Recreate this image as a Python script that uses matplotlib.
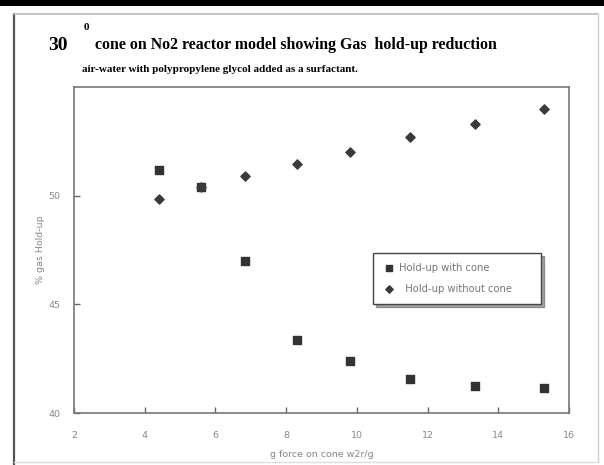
import matplotlib
matplotlib.use("Agg")
import matplotlib.pyplot as plt
from matplotlib.lines import Line2D
from matplotlib.patches import Rectangle

# Data
g_force = [4.4, 5.6, 6.85, 8.3, 9.8, 11.5, 13.35, 15.3]
holdup_with_cone = [51.2, 50.4, 47.0, 43.35, 42.4, 41.55, 41.25, 41.15]
holdup_without_cone = [49.85, 50.4, 50.9, 51.45, 52.0, 52.7, 53.3, 54.0]
x_ticks = [2, 4, 6, 8, 10, 12, 14, 16]
y_ticks = [40, 45, 50]

W, H = 604, 465
fig = plt.figure(figsize=(W / 100, H / 100), dpi=100)
fig.patch.set_facecolor("white")

def fx(px):
    return px / W

def fy(py):
    return 1 - py / H

# page decorations
fig.add_artist(Rectangle((0, fy(6)), 1, 6 / H, transform=fig.transFigure,
                         facecolor="black", edgecolor="none"))
fig.add_artist(Line2D([fx(14), fx(14)], [fy(14), fy(465)], transform=fig.transFigure,
                      color="#555555", lw=1.6))
fig.add_artist(Line2D([fx(14), fx(598)], [fy(14), fy(14)], transform=fig.transFigure,
                      color="#bbbbbb", lw=1.2))
fig.add_artist(Line2D([fx(598), fx(598)], [fy(14), fy(462)], transform=fig.transFigure,
                      color="#cccccc", lw=1.0))
fig.add_artist(Line2D([fx(14), fx(598)], [fy(462), fy(462)], transform=fig.transFigure,
                      color="#dddddd", lw=1.0))

ax = fig.add_axes([fx(74), fy(413), fx(569) - fx(74), fy(87) - fy(413)])
ax.set_xlim(2, 16)
ax.set_ylim(40, 55)
ax.set_xticks(x_ticks)
ax.set_yticks(y_ticks)
ax.set_xticklabels([str(t) for t in x_ticks])
ax.set_yticklabels([str(t) for t in y_ticks])
for s in ax.spines.values():
    s.set_color("#777777")
    s.set_linewidth(1.2)
ax.tick_params(direction="in", length=4, width=1, color="#666666",
               labelsize=6.8, labelcolor="#888888")
ax.tick_params(axis="x", pad=13)
ax.tick_params(axis="y", pad=10)

ax.scatter(g_force, holdup_with_cone, marker="s", s=38, color="#333333",
           edgecolors="#333333", label="Hold-up with cone", zorder=3)
ax.scatter(g_force, holdup_without_cone, marker="D", s=22, color="#3a3a3a",
           edgecolors="#3a3a3a", label="Hold-up without cone", zorder=3)

ax.set_xlabel("g force on cone w2r/g", fontsize=6.8, color="#888888", labelpad=7)
ax.set_ylabel("% gas Hold-up", fontsize=6.8, color="#888888", labelpad=2)

leg = ax.legend(loc="upper left", bbox_to_anchor=((373 - 74) / (569 - 74), (413 - 253) / (413 - 87)),
                borderaxespad=0, fontsize=7.2, frameon=True, fancybox=False, shadow=True,
                edgecolor="#444444", handletextpad=0.4, handlelength=1.2, borderpad=1.0,
                labelspacing=1.1, markerscale=0.8)
texts = leg.get_texts()
for t in texts:
    t.set_color("#777777")
texts[0].set_text("Hold-up with cone")
texts[1].set_text("  Hold-up without cone      ")
leg.get_frame().set_linewidth(1.0)

serif = ["Liberation Serif", "DejaVu Serif"]
fig.text(fx(48), fy(45), "30", fontsize=14, fontweight="bold", family=serif,
         va="center", ha="left")
fig.text(fx(84), fy(27), "0", fontsize=8, fontweight="bold", family=serif,
         va="center", ha="left")
fig.text(fx(95), fy(45), "cone on No2 reactor model showing Gas  hold-up reduction",
         fontsize=11.45, fontweight="bold", family=serif, va="center", ha="left")
fig.text(fx(82), fy(70), "air-water with polypropylene glycol added as a surfactant.",
         fontsize=8, fontweight="bold", family=serif, va="center", ha="left")

fig.savefig("out.png", dpi=100)
